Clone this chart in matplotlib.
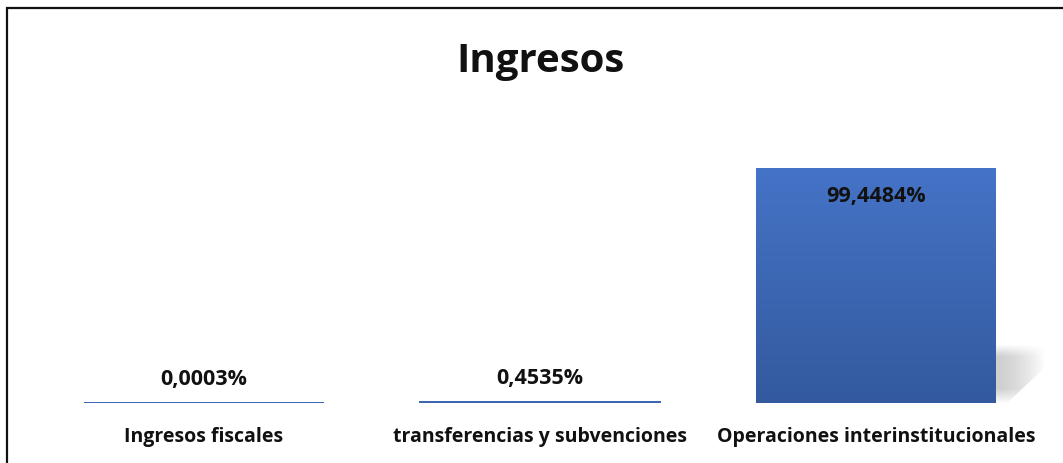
import numpy as np
import matplotlib.pyplot as plt
from matplotlib.patches import Rectangle, Polygon
from matplotlib.colors import LinearSegmentedColormap

categories = ["Ingresos fiscales", "transferencias y subvenciones", "Operaciones interinstitucionales"]
values = [0.0003, 0.4535, 99.4484]
labels = ["0,0003%", "0,4535%", "99,4484%"]
title = "Ingresos"

FONT = "Open Sans"
BAR_W = 0.714

fig = plt.figure(figsize=(10.63, 4.63), dpi=100)
ax = fig.add_axes([0.0339, 0.1296, 0.948, 0.613])
x = np.arange(len(categories))
bars = ax.bar(x, values, width=BAR_W, color="#3d66b4", edgecolor="#3b63af", linewidth=1.4, zorder=3)

# vertical gradient on each bar
cmap = LinearSegmentedColormap.from_list("g", ["#335a9f", "#4573c6"])
grad = np.linspace(0, 1, 256).reshape(-1, 1)
for b in bars:
    if b.get_height() < 5:
        continue
    b.set_linewidth(0)
    x0, y0 = b.get_x(), b.get_y()
    im = ax.imshow(grad, extent=[x0, x0 + b.get_width(), y0, y0 + b.get_height()],
                   origin="lower", cmap=cmap, aspect="auto", zorder=3.5)
    im.set_clip_path(b)

# soft perspective shadow to the right of the big bar
big = bars[2]
bx = big.get_x() + big.get_width()
h = big.get_height()
shadow = Polygon([(bx, h * 0.25), (bx + 0.146, h * 0.25), (bx + 0.146, h * 0.15),
                  (bx + 0.03, -h * 0.005), (bx, -h * 0.005)], closed=True,
                 facecolor="none", edgecolor="none", zorder=2)
ax.add_patch(shadow)
sgrad = np.linspace(0, 1, 64)
ygrad = np.linspace(0, 1, 64)
alpha = 0.42 * np.outer(np.minimum(1, ygrad * 4)[::-1] * np.minimum(1, (1 - ygrad) * 5)[::-1], 1 - sgrad ** 1.5)
sh = np.dstack([np.full((64, 64), 0.55)] * 3 + [alpha])
sh_im = ax.imshow(sh, extent=[bx, bx + 0.146, -h * 0.005, h * 0.25], aspect="auto", zorder=2)
sh_im.set_clip_path(shadow)

for i, (v, lab) in enumerate(zip(values, labels)):
    off = -21 if v > 50 else 17
    ax.annotate(lab, (x[i], v), xytext=(0, off), textcoords="offset points",
                ha="center", va="center", fontsize=15.5, fontweight="bold",
                family=FONT, color="#111111", zorder=5)

ax.set_xlim(-0.5, 2.5)
ax.set_ylim(0, 120)
ax.set_xticks(x)
ax.set_xticklabels(categories, fontsize=14, fontweight="bold", family=FONT, color="#111111")
ax.tick_params(axis="x", length=0, pad=17)
ax.set_yticks([])
for s in ax.spines.values():
    s.set_visible(False)

fig.text(0.508, 0.868, title, ha="center", va="center", fontsize=29,
         fontweight="bold", family=FONT, color="#111111")

# chart frame (cropped on the right and bottom)
fig.patches.append(Rectangle((7 / 1063, -0.1), 1.1, 1.1 - 8 / 463,
                             transform=fig.transFigure, fill=False,
                             edgecolor="#111111", linewidth=1.6))

fig.savefig("out.png", dpi=100)
